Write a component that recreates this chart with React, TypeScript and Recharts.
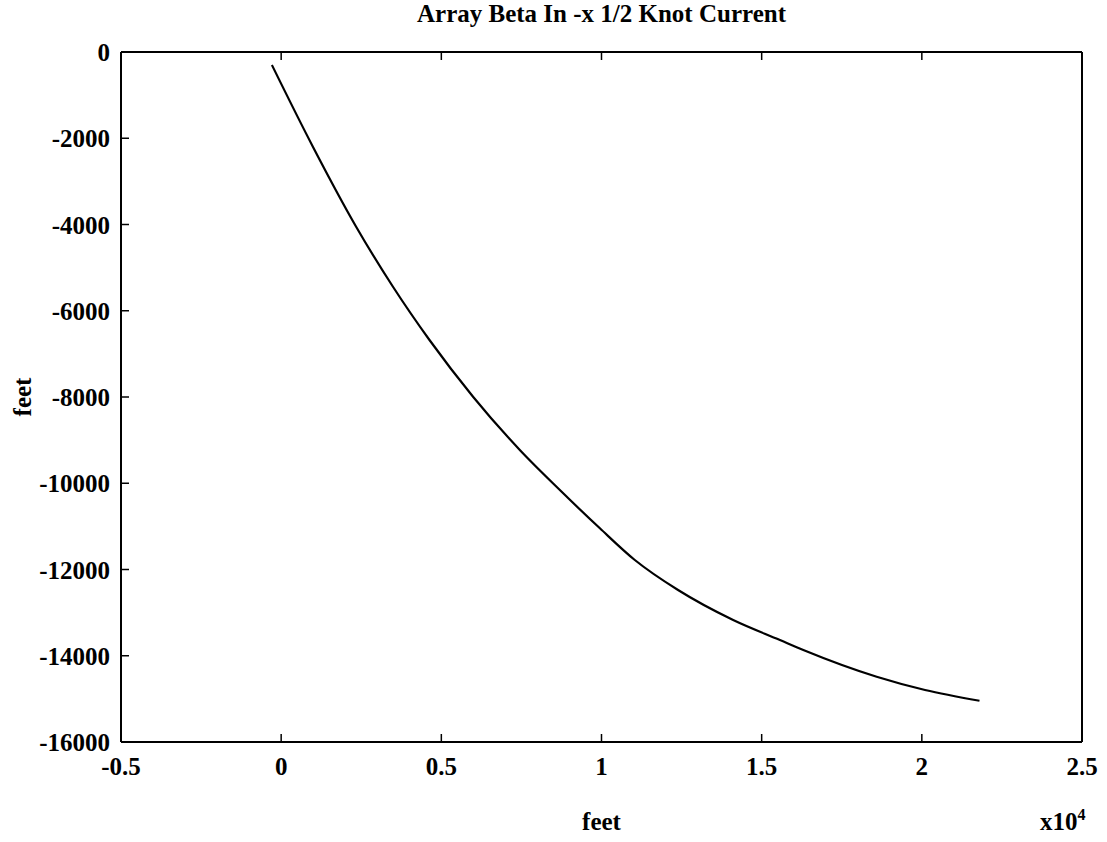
import { Line, LineChart, XAxis, YAxis } from 'recharts';

// ─── Data ────────────────────────────────────────────────────────────────────

const xFeet = [
  -290, 990, 2340, 3490, 4630, 5990, 7450, 8700, 9950, 11040, 12390, 14110,
  15570, 16300, 18590, 20100, 21800,
];
const yFeet = [
  -300, -2196, -4051, -5443, -6678, -7993, -9229, -10157, -11045, -11780,
  -12476, -13171, -13635, -13866, -14486, -14794, -15043,
];

const xTicks = [-5000, 0, 5000, 10000, 15000, 20000, 25000];
const yTicks = [0, -2000, -4000, -6000, -8000, -10000, -12000, -14000, -16000];

const TITLE = 'Array Beta In -x 1/2 Knot Current';
const AXIS_LABEL = 'feet';

// ─── Layout ──────────────────────────────────────────────────────────────────

const WIDTH = 1107;
const HEIGHT = 842;
const PLOT_LEFT = 121;
const PLOT_RIGHT = 1082;
const PLOT_TOP = 52;
const PLOT_BOTTOM = 742;
const TICK_LEN = 8;
const FONT = '"Liberation Serif", "Times New Roman", serif';
const FONT_SIZE = 25;

const chartData = xFeet.map((x, i) => ({ x, y: yFeet[i] }));

function formatX(value: number): string {
  return String(value / 10000);
}

function BottomTick({ x, y, payload }: any) {
  return (
    <g>
      <line x1={x} x2={x} y1={y} y2={y - TICK_LEN} stroke="#000" strokeWidth={1.5} />
      <text
        x={x}
        y={y + 33}
        textAnchor="middle"
        fontFamily={FONT}
        fontSize={FONT_SIZE}
        fontWeight="bold"
        fill="#000"
      >
        {formatX(payload.value)}
      </text>
    </g>
  );
}

function TopTick({ x, y }: any) {
  return <line x1={x} x2={x} y1={y} y2={y + TICK_LEN} stroke="#000" strokeWidth={1.5} />;
}

function LeftTick({ x, y, payload }: any) {
  return (
    <g>
      <line x1={x} x2={x + TICK_LEN} y1={y} y2={y} stroke="#000" strokeWidth={1.5} />
      <text
        x={x - 11}
        y={y + 9}
        textAnchor="end"
        fontFamily={FONT}
        fontSize={FONT_SIZE}
        fontWeight="bold"
        fill="#000"
      >
        {payload.value}
      </text>
    </g>
  );
}

function RightTick({ x, y }: any) {
  return <line x1={x} x2={x - TICK_LEN} y1={y} y2={y} stroke="#000" strokeWidth={1.5} />;
}

export default function App() {
  const textStyle = {
    fontFamily: FONT,
    fontSize: FONT_SIZE,
    fontWeight: 'bold' as const,
    fill: '#000',
  };

  return (
    <div
      style={{
        position: 'absolute',
        left: 0,
        top: 0,
        width: WIDTH,
        height: HEIGHT,
        background: '#fff',
      }}
    >
      <LineChart
        width={WIDTH}
        height={HEIGHT}
        data={chartData}
        margin={{ top: 0, right: 0, bottom: 0, left: 0 }}
      >
        <XAxis
          xAxisId="bottom"
          type="number"
          dataKey="x"
          domain={[-5000, 25000]}
          ticks={xTicks}
          orientation="bottom"
          height={HEIGHT - PLOT_BOTTOM}
          tickLine={false}
          tickSize={0}
          tickMargin={0}
          tick={BottomTick}
          axisLine={{ stroke: '#000', strokeWidth: 2 }}
          interval={0}
        />
        <XAxis
          xAxisId="top"
          type="number"
          dataKey="x"
          domain={[-5000, 25000]}
          ticks={xTicks}
          orientation="top"
          height={PLOT_TOP}
          tickLine={false}
          tickSize={0}
          tickMargin={0}
          tick={TopTick}
          axisLine={{ stroke: '#000', strokeWidth: 2 }}
          interval={0}
        />
        <YAxis
          yAxisId="left"
          type="number"
          domain={[-16000, 0]}
          ticks={yTicks}
          orientation="left"
          width={PLOT_LEFT}
          tickLine={false}
          tickSize={0}
          tickMargin={0}
          tick={LeftTick}
          axisLine={{ stroke: '#000', strokeWidth: 2 }}
          interval={0}
        />
        <YAxis
          yAxisId="right"
          type="number"
          domain={[-16000, 0]}
          ticks={yTicks}
          orientation="right"
          width={WIDTH - PLOT_RIGHT}
          tickLine={false}
          tickSize={0}
          tickMargin={0}
          tick={RightTick}
          axisLine={{ stroke: '#000', strokeWidth: 2 }}
          interval={0}
        />
        <Line
          xAxisId="bottom"
          yAxisId="left"
          type="monotone"
          dataKey="y"
          stroke="#000"
          strokeWidth={2.2}
          dot={false}
          activeDot={false}
          isAnimationActive={false}
        />
      </LineChart>

      <svg
        width={WIDTH}
        height={HEIGHT}
        style={{ position: 'absolute', left: 0, top: 0, pointerEvents: 'none' }}
      >
        <text x={(PLOT_LEFT + PLOT_RIGHT) / 2} y={22} textAnchor="middle" {...textStyle}>
          {TITLE}
        </text>
        <text x={(PLOT_LEFT + PLOT_RIGHT) / 2} y={830} textAnchor="middle" {...textStyle}>
          {AXIS_LABEL}
        </text>
        <text x={1040} y={830} textAnchor="start" {...textStyle}>
          x10
          <tspan fontSize={16} dy={-10}>
            4
          </tspan>
        </text>
        <text
          x={31}
          y={(PLOT_TOP + PLOT_BOTTOM) / 2}
          textAnchor="middle"
          transform={`rotate(-90 31 ${(PLOT_TOP + PLOT_BOTTOM) / 2})`}
          {...textStyle}
        >
          {AXIS_LABEL}
        </text>
      </svg>
    </div>
  );
}
